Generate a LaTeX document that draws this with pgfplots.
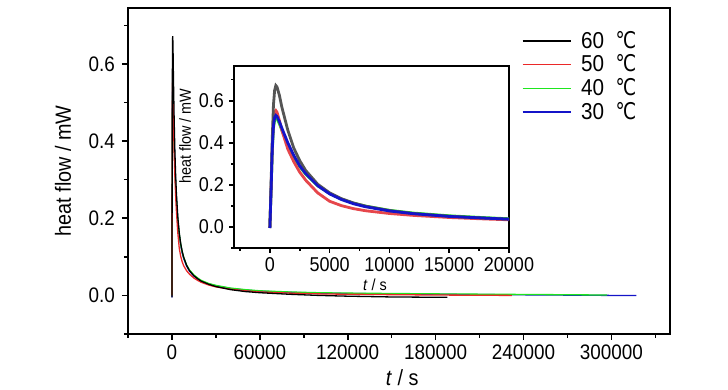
\documentclass[border=0pt]{standalone}
\usepackage{fontspec}
\setmainfont{Liberation Sans}[FakeStretch=0.9]
\newfontfamily\dejavu{DejaVu Sans}[FakeStretch=0.8]
\newcommand{\degC}{{\dejavu ℃}}
\usepackage{pgfplots}
\usepackage{pgfplotstable}
\pgfplotsset{compat=1.18}
\definecolor{cblack}{RGB}{0,0,0}
\definecolor{cgray}{RGB}{85,85,85}
\definecolor{cred}{RGB}{235,40,40}
\definecolor{cred2}{RGB}{230,70,75}
\definecolor{cgreen}{RGB}{30,230,30}
\definecolor{cblue}{RGB}{20,20,200}
\pgfplotstableread{
t f
0 -0.005
100 0.2
200 0.42
300 0.58
400 0.65
500 0.672
600 0.665
800 0.625
1000 0.57
1500 0.46
2000 0.375
2500 0.315
3000 0.268
4000 0.203
5000 0.162
6000 0.134
7000 0.114
8000 0.099
10000 0.078
12000 0.064
15000 0.051
18000 0.042
20000 0.037
25000 0.029
30000 0.023
40000 0.015
50000 0.010
60000 0.007
80000 0.003
100000 0.000
120000 -0.002
150000 -0.004
188000 -0.005
}\tsixty
\pgfplotstableread{
t f
0 0.0
100 0.18
200 0.38
300 0.5
400 0.545
500 0.553
600 0.545
800 0.505
1000 0.46
1500 0.37
2000 0.31
2500 0.26
3000 0.222
4000 0.162
5000 0.122
6000 0.101
7000 0.087
8000 0.077
10000 0.064
12000 0.055
15000 0.045
18000 0.038
20000 0.034
25000 0.027
30000 0.022
40000 0.016
50000 0.012
60000 0.009
80000 0.006
100000 0.004
120000 0.003
150000 0.002
180000 0.001
232000 0.0
}\tfifty
\pgfplotstableread{
t f
0 0.0
100 0.17
200 0.36
300 0.47
400 0.51
500 0.52
600 0.515
800 0.49
1000 0.46
1500 0.39
2000 0.332
2500 0.287
3000 0.251
4000 0.196
5000 0.159
6000 0.132
7000 0.113
8000 0.099
10000 0.079
12000 0.066
15000 0.053
18000 0.044
20000 0.039
25000 0.031
30000 0.026
40000 0.019
50000 0.015
60000 0.012
80000 0.009
100000 0.007
120000 0.006
150000 0.005
180000 0.004
220000 0.003
260000 0.002
297000 0.001
}\tforty
\pgfplotstableread{
t f
0 -0.005
100 0.17
200 0.37
300 0.48
400 0.52
500 0.53
600 0.525
800 0.5
1000 0.47
1500 0.4
2000 0.34
2500 0.29
3000 0.253
4000 0.196
5000 0.157
6000 0.13
7000 0.11
8000 0.096
10000 0.076
12000 0.063
15000 0.05
18000 0.042
20000 0.037
25000 0.03
30000 0.025
40000 0.018
50000 0.014
60000 0.011
80000 0.008
100000 0.006
120000 0.005
150000 0.004
180000 0.003
220000 0.002
260000 0.001
300000 0.0
317000 0.0
}\tthirty
\begin{document}
\begin{tikzpicture}
\useasboundingbox (-64pt,-28pt) rectangle (300pt,167pt);
\begin{axis}[
  at={(0pt,0pt)}, anchor=south west,
  scale only axis, width=271pt, height=163pt,
  xmin=-30000, xmax=340000, ymin=-0.1, ymax=0.745,
  scaled x ticks=false, scaled y ticks=false,
  xtick={0,60000,120000,180000,240000,300000},
  xticklabels={0,60000,120000,180000,240000,300000},
  ytick={0,0.2,0.4,0.6},
  yticklabels={0.0,0.2,0.4,0.6},
  minor xtick={-30000,30000,90000,150000,210000,270000,330000},
  minor ytick={-0.1,0.1,0.3,0.5,0.7},
  tick align=outside, xtick pos=bottom, ytick pos=left,
  major tick length=3pt, minor tick length=2pt,
  xticklabel style={font=\fontsize{10.5}{12}\selectfont, yshift=1pt},
  yticklabel style={font=\fontsize{10.5}{12}\selectfont},
  axis line style={line width=1pt},
  every tick/.style={line width=0.8pt, black},
  xlabel={\textit{t} / s}, ylabel={heat flow / mW},
  xlabel style={font=\fontsize{11}{12}\selectfont, at={(axis description cs:0.506,-0.135)}, anchor=center},
  ylabel style={font=\fontsize{11}{12}\selectfont, at={(axis description cs:-0.12,0.5)}, anchor=center},
  legend style={at={(axis description cs:0.715,0.955)}, anchor=north west, draw=none, fill=none,
    font=\fontsize{11.5}{12}\selectfont, row sep=-2.2pt},
  legend cell align=left,
  legend image code/.code={\draw[#1, line width=0.7pt] (0,0) -- (24pt,0);},
  reverse legend,
]
\addplot[cblue, line width=0.65pt] table {\tthirty};
\addlegendentry{\ 30\ \ \degC}
\addplot[cgreen, line width=0.65pt] table {\tforty};
\addlegendentry{\ 40\ \ \degC}
\addplot[cred, line width=0.65pt] table {\tfifty};
\addlegendentry{\ 50\ \ \degC}
\addplot[cblack, line width=0.65pt] table {\tsixty};
\addlegendentry{\ 60\ \ \degC}
\end{axis}
\begin{axis}[
  at={(53pt,43pt)}, anchor=south west,
  scale only axis, width=137.5pt, height=91pt,
  xmin=-3000, xmax=20000, ymin=-0.1, ymax=0.765,
  scaled x ticks=false, scaled y ticks=false,
  xtick={0,5000,10000,15000,20000},
  xticklabels={0,5000,10000,15000,20000},
  ytick={0,0.2,0.4,0.6},
  yticklabels={0.0,0.2,0.4,0.6},
  minor xtick={-2500,2500,7500,12500,17500},
  minor ytick={-0.1,0.1,0.3,0.5,0.7},
  tick align=outside, xtick pos=bottom, ytick pos=left,
  major tick length=2.5pt, minor tick length=1.5pt,
  axis background/.style={fill=white},
  xticklabel style={font=\fontsize{10}{12}\selectfont, yshift=1.5pt},
  yticklabel style={font=\fontsize{10}{12}\selectfont, xshift=1pt},
  axis line style={line width=1pt},
  every tick/.style={line width=0.8pt, black},
  xlabel={\textit{t} / s}, ylabel={heat flow / mW},
  xlabel style={font=\fontsize{8}{9}\selectfont, at={(axis description cs:0.513,-0.2)}, anchor=center},
  ylabel style={font=\fontsize{8}{9}\selectfont, at={(axis description cs:-0.178,0.615)}, anchor=center},
]
\addplot[cgreen, line width=1.4pt] table {\tforty};
\addplot[cred2, line width=1.4pt] table {\tfifty};
\addplot[cgray, line width=1.4pt] table {\tsixty};
\addplot[cblue, line width=1.4pt] table {\tthirty};
\end{axis}
\end{tikzpicture}
\end{document}
